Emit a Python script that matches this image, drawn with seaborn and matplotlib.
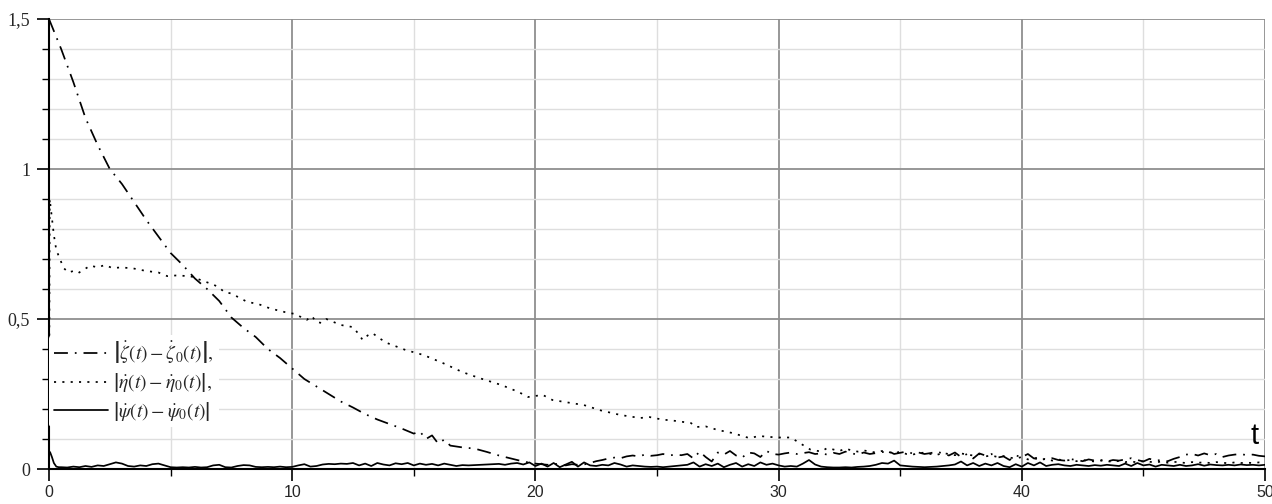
import numpy as np
import pandas as pd
import matplotlib
matplotlib.use("Agg")
import matplotlib.pyplot as plt
import matplotlib.transforms as mtransforms
from matplotlib.ticker import MultipleLocator, FuncFormatter
import seaborn as sns

# ---- data -------------------------------------------------------------
# |zeta'(t) - zeta0'(t)| : smooth decay followed by a noisy tail
zeta_t_head = [0.0, 0.25, 0.5, 1.0, 1.5, 2.0, 2.5, 3.0, 3.5, 4.0, 4.5, 5.0, 5.5, 6.0,
               6.5, 7.0, 7.5, 8.0, 8.5, 9.0, 9.5, 10.0, 10.5, 11.0, 11.5, 12.0, 12.5,
               13.0, 13.5, 14.0, 14.5, 15.0, 15.25, 15.5, 15.75, 16.0, 16.25, 16.5,
               17.0, 17.5, 18.0, 18.5, 19.0, 19.5, 20.0]
zeta_v_head = [1.50, 1.45, 1.40, 1.29, 1.17, 1.08, 1.00, 0.95, 0.89, 0.83, 0.775, 0.72,
               0.68, 0.635, 0.60, 0.56, 0.505, 0.47, 0.44, 0.40, 0.37, 0.335, 0.30,
               0.275, 0.25, 0.225, 0.205, 0.183, 0.165, 0.15, 0.135, 0.118, 0.125,
               0.10, 0.112, 0.085, 0.098, 0.078, 0.072, 0.068, 0.057, 0.045, 0.035,
               0.025, 0.018]
zeta_tail_start = 20.25
zeta_v_tail = [0.016, 0.014, 0.018, 0.015, 0.012, 0.016, 0.014, 0.015,
               0.020, 0.026, 0.030, 0.035, 0.038, 0.036, 0.042, 0.045,
               0.042, 0.048, 0.044, 0.046, 0.050, 0.045, 0.048, 0.046,
               0.050, 0.035, 0.058, 0.040, 0.025, 0.055, 0.048, 0.060,
               0.045, 0.038, 0.055, 0.052, 0.040, 0.060, 0.050, 0.048,
               0.052, 0.055, 0.050, 0.053, 0.056, 0.050, 0.052, 0.048,
               0.054, 0.050, 0.058, 0.052, 0.048, 0.055, 0.050, 0.053,
               0.056, 0.060, 0.050, 0.054, 0.058, 0.052, 0.055, 0.050,
               0.053, 0.058, 0.052, 0.045, 0.055, 0.040, 0.050, 0.035,
               0.052, 0.045, 0.050, 0.038, 0.042, 0.030, 0.045, 0.040,
               0.050, 0.035, 0.040, 0.030, 0.036, 0.030, 0.028, 0.033,
               0.030, 0.026, 0.032, 0.028, 0.030, 0.025, 0.030, 0.028,
               0.032, 0.036, 0.030, 0.025, 0.034, 0.028, 0.030, 0.026,
               0.034, 0.040, 0.048, 0.050, 0.045, 0.052, 0.046, 0.050,
               0.040, 0.045, 0.048, 0.050, 0.046, 0.048, 0.044, 0.042]

# |eta'(t) - eta0'(t)|
eta_t_head = [0.0, 0.03, 0.1, 0.2, 0.3, 0.45, 0.6, 0.8, 1.0, 1.2, 1.5, 1.7, 2.0, 2.3,
              2.6, 3.0, 3.5, 4.0, 4.5, 4.86, 5.2, 5.8, 6.3, 6.75, 7.0, 7.2, 7.5, 8.15,
              8.6, 9.1, 9.7, 10.1, 10.6, 10.8, 11.0, 11.2, 11.4, 12.0, 12.5, 12.7,
              12.9, 13.1, 13.3, 13.6, 13.9, 14.65, 15.4, 16.2, 17.0, 17.7, 18.6, 19.3,
              19.7, 20.3, 20.7, 21.3, 22.0, 22.7, 23.5, 24.3, 24.7, 25.2, 25.8, 26.4,
              26.6, 27.0, 27.5, 28.1, 28.8, 29.2, 29.6, 30.0, 30.5, 30.8, 31.0, 31.3]
eta_v_head = [0.0, 0.90, 0.85, 0.78, 0.73, 0.70, 0.67, 0.655, 0.66, 0.653, 0.668, 0.678,
              0.672, 0.68, 0.67, 0.672, 0.668, 0.66, 0.655, 0.643, 0.645, 0.643, 0.628,
              0.615, 0.605, 0.59, 0.585, 0.557, 0.55, 0.535, 0.523, 0.517, 0.497, 0.51,
              0.49, 0.487, 0.50, 0.48, 0.473, 0.453, 0.43, 0.445, 0.453, 0.435, 0.42,
              0.397, 0.38, 0.353, 0.323, 0.303, 0.28, 0.257, 0.24, 0.247, 0.23, 0.222,
              0.213, 0.195, 0.18, 0.17, 0.173, 0.165, 0.16, 0.153, 0.14, 0.142, 0.13,
              0.12, 0.103, 0.11, 0.107, 0.105, 0.105, 0.09, 0.08, 0.065]
eta_tail_start = 31.5
eta_v_tail = [0.062, 0.058, 0.070, 0.065, 0.060, 0.068, 0.062, 0.058,
              0.062, 0.058, 0.055, 0.060, 0.057, 0.052, 0.058, 0.050,
              0.048, 0.052, 0.055, 0.050, 0.047, 0.053, 0.050, 0.046,
              0.052, 0.048, 0.045, 0.050, 0.042, 0.045, 0.040, 0.043,
              0.038, 0.035, 0.040, 0.032, 0.036, 0.030, 0.034, 0.028,
              0.032, 0.028, 0.030, 0.026, 0.030, 0.027, 0.025, 0.028,
              0.026, 0.024, 0.027, 0.023, 0.025, 0.022, 0.026, 0.024,
              0.022, 0.025, 0.021, 0.024, 0.022, 0.020, 0.023, 0.021,
              0.022, 0.020, 0.023, 0.021, 0.019, 0.022, 0.020, 0.021,
              0.020, 0.022, 0.021]

# |psi'(t) - psi0'(t)|
psi_t_head = [0.0, 0.05, 0.12, 0.2, 0.3, 0.4]
psi_v_head = [0.06, 0.055, 0.04, 0.02, 0.008, 0.006]
psi_tail_start = 0.5
psi_v_tail = [0.006, 0.005, 0.008, 0.006, 0.010, 0.007, 0.012, 0.010,
              0.016, 0.022, 0.018, 0.010, 0.008, 0.012, 0.010, 0.016,
              0.018, 0.012, 0.006, 0.005, 0.006, 0.005, 0.007, 0.005,
              0.006, 0.012, 0.014, 0.006, 0.005, 0.010, 0.013, 0.012,
              0.007, 0.006, 0.007, 0.006, 0.008, 0.006, 0.007, 0.012,
              0.016, 0.008, 0.010, 0.015, 0.017, 0.016, 0.018, 0.017,
              0.020, 0.012, 0.018, 0.010, 0.020, 0.015, 0.012, 0.019,
              0.016, 0.020, 0.012, 0.018, 0.014, 0.017, 0.012, 0.018,
              0.014, 0.010, 0.013, 0.012, 0.013, 0.014, 0.015, 0.016,
              0.017, 0.014, 0.018, 0.020, 0.015, 0.022, 0.010, 0.018,
              0.008, 0.020, 0.006, 0.015, 0.024, 0.008, 0.022, 0.012,
              0.010, 0.014, 0.012, 0.020, 0.015, 0.008, 0.012, 0.010,
              0.008, 0.007, 0.008, 0.006, 0.008, 0.010, 0.012, 0.014,
              0.022, 0.008, 0.016, 0.010, 0.018, 0.006, 0.014, 0.020,
              0.008, 0.016, 0.010, 0.022, 0.014, 0.018, 0.012, 0.008,
              0.010, 0.008, 0.018, 0.030, 0.015, 0.008, 0.006, 0.005,
              0.005, 0.006, 0.005, 0.007, 0.008, 0.010, 0.014, 0.020,
              0.018, 0.028, 0.012, 0.010, 0.008, 0.007, 0.006, 0.007,
              0.008, 0.010, 0.012, 0.015, 0.025, 0.012, 0.020, 0.010,
              0.018, 0.012, 0.020, 0.010, 0.006, 0.016, 0.008, 0.020,
              0.012, 0.022, 0.010, 0.014, 0.016, 0.012, 0.010, 0.014,
              0.012, 0.010, 0.013, 0.011, 0.014, 0.012, 0.010, 0.018,
              0.010, 0.020, 0.012, 0.015, 0.008, 0.014, 0.012, 0.010,
              0.014, 0.010, 0.012, 0.016, 0.011, 0.015, 0.013, 0.012,
              0.014, 0.012, 0.015, 0.013, 0.014, 0.012, 0.014]

TAIL_STEP = 0.25

labels = [r"$\left|\dot{\zeta}(t)-\dot{\zeta}_0(t)\right|,$",
          r"$\left|\dot{\eta}(t)-\dot{\eta}_0(t)\right|,$",
          r"$\left|\dot{\psi}(t)-\dot{\psi}_0(t)\right|$"]


def series(t_head, v_head, tail_start, v_tail):
    t_tail = tail_start + TAIL_STEP * np.arange(len(v_tail))
    return pd.DataFrame({"t": np.concatenate([t_head, t_tail]),
                         "v": np.concatenate([v_head, v_tail])})


zeta_df = series(zeta_t_head, zeta_v_head, zeta_tail_start, zeta_v_tail)
eta_df = series(eta_t_head, eta_v_head, eta_tail_start, eta_v_tail)
psi_df = series(psi_t_head, psi_v_head, psi_tail_start, psi_v_tail)

# ---- style ------------------------------------------------------------
sns.set_style("white")
plt.rcParams["font.family"] = ["DejaVu Sans"]
plt.rcParams["mathtext.fontset"] = "stix"

fig = plt.figure(figsize=(12.72, 5.04), dpi=100)
ax = fig.add_axes([49 / 1272, 1 - 469 / 504, (1265 - 49) / 1272, (469 - 19) / 504])

LW = 1.25
styles = [(0, (8, 4, 1, 4)), (0, (1.2, 3.6)), "-"]
for df, ls, lab in zip([zeta_df, eta_df, psi_df], styles, labels):
    sns.lineplot(data=df, x="t", y="v", ax=ax, color="black", lw=LW,
                 linestyle=ls, estimator=None, sort=False, label=lab)

ax.set_xlim(0, 50)
ax.set_ylim(0, 1.5)
ax.set_xlabel("")
ax.set_ylabel("")

ax.xaxis.set_major_locator(MultipleLocator(10))
ax.xaxis.set_minor_locator(MultipleLocator(5))
ax.yaxis.set_major_locator(MultipleLocator(0.5))
ax.yaxis.set_minor_locator(MultipleLocator(0.1))


def comma_fmt(v, pos):
    s = f"{v:.1f}".rstrip("0").rstrip(".")
    return s.replace(".", ",")


ax.yaxis.set_major_formatter(FuncFormatter(comma_fmt))

ax.grid(True, which="major", color="#8f8f8f", lw=1.3)
ax.grid(True, which="minor", color="#dedede", lw=1.0)
ax.set_axisbelow(True)

for side in ("top", "right"):
    ax.spines[side].set_visible(False)
for side in ("left", "bottom"):
    ax.spines[side].set_color("black")
    ax.spines[side].set_linewidth(1.5)

ax.tick_params(axis="both", which="major", direction="out", length=8.5, width=1.2,
               color="black", bottom=True, left=True)
ax.tick_params(axis="both", which="minor", direction="out", length=5, width=1.0,
               color="black", bottom=True, left=True)
ax.tick_params(axis="x", which="major", pad=3)
ax.tick_params(axis="y", which="major", pad=5)
for lab in ax.get_yticklabels():
    lab.set_fontfamily("Liberation Serif")
    lab.set_fontsize(13)
xlabels = ax.get_xticklabels()
for lab in xlabels:
    lab.set_fontfamily("Liberation Sans")
    lab.set_fontsize(11.5)
# keep the last label inside the figure edge
shift = mtransforms.ScaledTranslation(-4 / 100, 0, fig.dpi_scale_trans)
xlabels[-1].set_transform(xlabels[-1].get_transform() + shift)

ax.text(49.75, 0.11, "t", ha="right", va="center", fontsize=21,
        family="Liberation Sans", color="black")

leg = ax.legend(loc="upper left", bbox_to_anchor=(0.0, 0.298), frameon=True,
                facecolor="white", edgecolor="none", framealpha=1.0,
                fontsize=14, handlelength=2.8, handletextpad=0.25,
                labelspacing=0.27, borderpad=0.25, borderaxespad=0.0)

fig.savefig("out.png", dpi=100)
